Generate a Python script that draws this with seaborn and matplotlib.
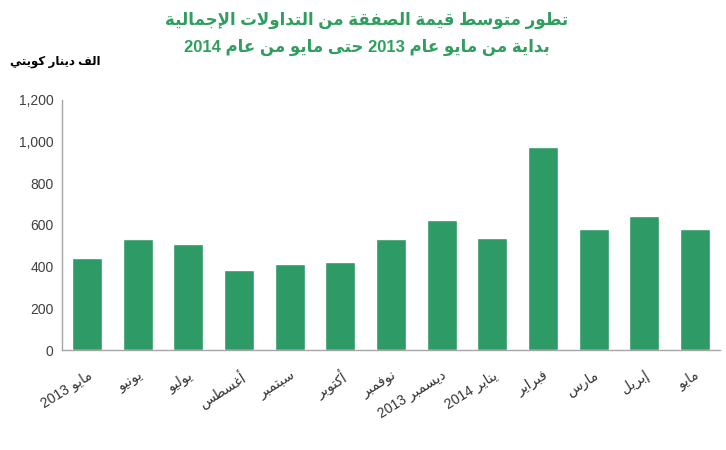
import seaborn as sns
import matplotlib.pyplot as plt
import matplotlib.transforms as mtransforms
import pandas as pd

# data (thousand KWD)
months = ["مايو 2013", "يونيو", "يوليو", "أغسطس", "سبتمبر", "أكتوبر", "نوفمبر",
          "ديسمبر 2013", "يناير 2014", "فبراير", "مارس", "إبريل", "مايو"]
avg_deal_value = [440, 535, 509, 386, 413, 424, 531, 626, 536, 973, 583, 645, 579]
yticks = [0, 200, 400, 600, 800, 1000, 1200]

title_line1 = "تطور متوسط قيمة الصفقة من التداولات الإجمالية"
title_line2 = "بداية من مايو عام 2013 حتى مايو من عام 2014"
unit_label = "الف دينار كويتي"

BAR_GREEN = "#2e9a66"
TITLE_GREEN = "#2f9e5f"

# matplotlib has no arabic shaping, so do a small one by hand
# (letter -> first presentation form, number of forms)
_letters = [('ء', 0xFE80, 1), ('آ', 0xFE81, 2), ('أ', 0xFE83, 2), ('ؤ', 0xFE85, 2),
            ('إ', 0xFE87, 2), ('ئ', 0xFE89, 4), ('ا', 0xFE8D, 2), ('ب', 0xFE8F, 4),
            ('ة', 0xFE93, 2), ('ت', 0xFE95, 4), ('ث', 0xFE99, 4), ('ج', 0xFE9D, 4),
            ('ح', 0xFEA1, 4), ('خ', 0xFEA5, 4), ('د', 0xFEA9, 2), ('ذ', 0xFEAB, 2),
            ('ر', 0xFEAD, 2), ('ز', 0xFEAF, 2), ('س', 0xFEB1, 4), ('ش', 0xFEB5, 4),
            ('ص', 0xFEB9, 4), ('ض', 0xFEBD, 4), ('ط', 0xFEC1, 4), ('ظ', 0xFEC5, 4),
            ('ع', 0xFEC9, 4), ('غ', 0xFECD, 4), ('ف', 0xFED1, 4), ('ق', 0xFED5, 4),
            ('ك', 0xFED9, 4), ('ل', 0xFEDD, 4), ('م', 0xFEE1, 4), ('ن', 0xFEE5, 4),
            ('ه', 0xFEE9, 4), ('و', 0xFEED, 2), ('ى', 0xFEEF, 2), ('ي', 0xFEF1, 4)]
SHAPES = {c: (start, n) for c, start, n in _letters}
LAM_ALEF = {'آ': 0xFEF5, 'أ': 0xFEF7, 'إ': 0xFEF9, 'ا': 0xFEFB}


def shape_word(word):
    units = []
    i = 0
    while i < len(word):
        c = word[i]
        if c == 'ل' and i + 1 < len(word) and word[i + 1] in LAM_ALEF:
            units.append(('LA', word[i + 1]))
            i += 2
        else:
            units.append(('C', c))
            i += 1

    def joins_next(u):
        return u[0] == 'C' and u[1] in SHAPES and SHAPES[u[1]][1] == 4

    def is_arabic(u):
        return u[0] == 'LA' or u[1] in SHAPES

    out = []
    for k, (kind, c) in enumerate(units):
        prev_joins = k > 0 and joins_next(units[k - 1])
        if kind == 'LA':
            out.append(chr(LAM_ALEF[c] + (1 if prev_joins else 0)))
            continue
        if c not in SHAPES:
            out.append(c)
            continue
        start, n = SHAPES[c]
        next_joins = n == 4 and k + 1 < len(units) and is_arabic(units[k + 1])
        if n == 1:
            idx = 0
        elif prev_joins and next_joins:
            idx = 3
        elif next_joins:
            idx = 2
        elif prev_joins:
            idx = 1
        else:
            idx = 0
        out.append(chr(start + idx))
    return ''.join(out)


def rtl(text):
    words = []
    for w in text.split(' '):
        if any(ch in SHAPES for ch in w):
            words.append(shape_word(w)[::-1])
        else:
            words.append(w)
    return ' '.join(words[::-1])


sns.set_theme(style="white")
plt.rcParams['font.family'] = ['Liberation Sans', 'DejaVu Sans']

df = pd.DataFrame({"month": months, "value": avg_deal_value})

fig, ax = plt.subplots(figsize=(7.26, 4.5), dpi=100)
fig.subplots_adjust(left=0.085, right=0.992, bottom=0.222, top=0.778)

sns.barplot(data=df, x="month", y="value", color=BAR_GREEN, saturation=1,
            width=0.59, ax=ax)

ax.set_ylim(0, 1200)
ax.set_xlim(-0.5, len(months) - 0.5)
ax.set_yticks(yticks)
ax.set_yticklabels([f"{v:,}" for v in yticks], fontsize=10, color="#404040")
ax.set_xlabel('')
ax.set_ylabel('')

# rotated month labels, right end near the tick
ax.set_xticks(range(len(months)))
labels = ax.set_xticklabels([rtl(m) for m in months], rotation=32, ha='right',
                            rotation_mode='anchor', fontsize=10, color="#333333")
offset = mtransforms.ScaledTranslation(6 / 72, -11 / 72, fig.dpi_scale_trans)
for lab in labels:
    lab.set_transform(lab.get_transform() + offset)

ax.tick_params(axis='y', length=0, pad=6)
ax.tick_params(axis='x', length=0, pad=13)
for side in ['top', 'right']:
    ax.spines[side].set_visible(False)
for side in ['left', 'bottom']:
    ax.spines[side].set_color("#a6a6a6")
    ax.spines[side].set_linewidth(1.0)
ax.grid(False)

fig.text(0.505, 0.955, rtl(title_line1), ha='center', va='center', fontsize=12,
         fontweight='bold', color=TITLE_GREEN)
fig.text(0.505, 0.895, rtl(title_line2), ha='center', va='center', fontsize=12,
         fontweight='bold', color=TITLE_GREEN)
fig.text(0.076, 0.862, rtl(unit_label), ha='center', va='center', fontsize=8.5,
         fontweight='bold', color="black")

plt.savefig("out.png", dpi=100)
